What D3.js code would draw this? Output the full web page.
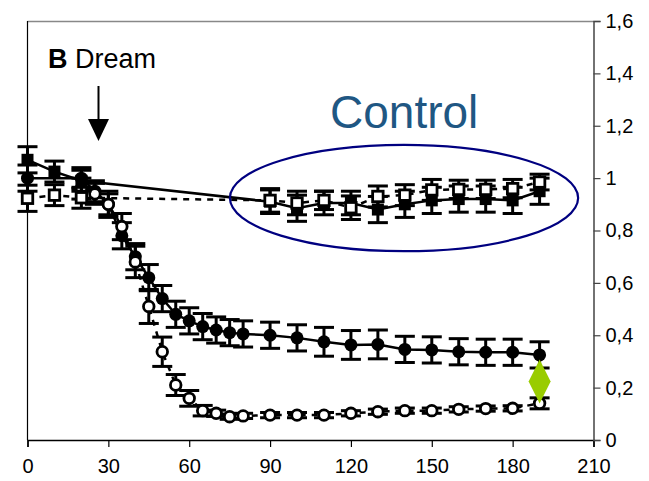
<!DOCTYPE html>
<html><head><meta charset="utf-8">
<script src="https://cdn.jsdelivr.net/npm/d3@7"></script>
<style>body{margin:0;background:#fff}svg{display:block;font-family:"Liberation Sans",Arial,sans-serif}</style>
</head><body><svg id="c" width="649" height="481"></svg>
<script>
// ---- data ----
const dreamFilledX   = [0,20,25,30,35,40,45,50,55,60,65,70,75,80,90,100,110,120,130,140,150,160,170,180,190];
const dreamFilled    = [1.0,1.0,0.95,0.9,0.78,0.70,0.62,0.54,0.48,0.455,0.433,0.42,0.41,0.405,0.40,0.39,0.375,0.363,0.365,0.346,0.344,0.337,0.335,0.335,0.325];
const dreamFilledErr = [0.05,0.04,0.04,0.05,0.05,0.05,0.05,0.05,0.05,0.05,0.05,0.05,0.05,0.05,0.05,0.05,0.055,0.055,0.055,0.05,0.05,0.05,0.05,0.05,0.05];
const dreamOpenX     = [20,25,30,35,40,45,50,55,60,65,70,75,80,90,100,110,120,130,140,150,160,170,180,190];
const dreamOpen      = [0.96,0.94,0.90,0.815,0.68,0.51,0.337,0.21,0.159,0.112,0.102,0.089,0.092,0.095,0.095,0.095,0.102,0.108,0.112,0.112,0.117,0.12,0.121,0.14];
const dreamOpenErr   = [0.04,0.04,0.04,0.05,0.06,0.065,0.056,0.04,0.03,0.02,0.012,0.01,0.01,0.01,0.01,0.01,0.01,0.01,0.01,0.01,0.01,0.01,0.01,0.021];
const ctrlX          = [0,10,20,90,100,110,120,130,140,150,160,170,180,190];
const ctrlFilled     = [1.07,1.025,0.99,0.91,0.885,0.905,0.905,0.88,0.90,0.915,0.92,0.92,0.915,0.95];
const ctrlFilledErr  = [0.05,0.04,0.04,0.045,0.05,0.045,0.045,0.05,0.05,0.05,0.05,0.05,0.05,0.05];
const ctrlOpen       = [0.923,0.935,0.925,0.915,0.905,0.915,0.887,0.93,0.935,0.955,0.957,0.957,0.96,0.985];
const ctrlOpenErr    = [0.05,0.04,0.04,0.045,0.045,0.035,0.045,0.04,0.04,0.04,0.035,0.035,0.035,0.03];
const xTicks = [0,30,60,90,120,150,180,210];
const yTicks = [0,0.2,0.4,0.6,0.8,1.0,1.2,1.4,1.6];
const yTickLabels = ["0","0,2","0,4","0,6","0,8","1","1,2","1,4","1,6"];
const sigMark = {x:190, y:0.223};
const ellipseAnno = {cx:139.7, cy:0.924, rx:64.6, ry:0.203};

// ---- chart ----
const svg = d3.select("#c");
const L=27.5, R=593.5, T=21, B=440;
const x = d3.scaleLinear().domain([0,210]).range([L,R]);
const y = d3.scaleLinear().domain([0,1.6]).range([B,T]);

// frame
svg.append("line").attr("x1",L).attr("x2",R).attr("y1",T+0.5).attr("y2",T+0.5).attr("stroke","#888").attr("stroke-width",1.5);
svg.append("line").attr("x1",L).attr("x2",L).attr("y1",T).attr("y2",B).attr("stroke","#000").attr("stroke-width",1.2);

// bottom axis
const xa = svg.append("g").attr("transform",`translate(0,${B})`)
  .call(d3.axisBottom(x).tickValues(xTicks).tickSize(7).tickPadding(12).tickFormat(d3.format("d")));
xa.select(".domain").attr("stroke","#000").attr("stroke-width",1.5);
xa.selectAll(".tick line").attr("stroke","#000").attr("stroke-width",1.2);
xa.selectAll("text").attr("font-size",20).attr("fill","#000").attr("font-family","'Liberation Sans',Arial,sans-serif");

// right axis
const ya = svg.append("g").attr("transform",`translate(${R},0)`)
  .call(d3.axisRight(y).tickValues(yTicks).tickSize(7).tickPadding(5).tickFormat((d,i)=>yTickLabels[i]));
ya.select(".domain").attr("stroke","#444").attr("stroke-width",1.5);
ya.selectAll(".tick line").attr("stroke","#444").attr("stroke-width",1.2);
ya.selectAll("text").attr("font-size",20).attr("fill","#000").attr("font-family","'Liberation Sans',Arial,sans-serif");

function series(xs, ys, es, opts){
  const g = svg.append("g");
  const pts = xs.map((v,i)=>({x:v,y:ys[i],e:es[i]}));
  const line = d3.line().x(d=>x(d.x)).y(d=>y(d.y));
  g.append("path").datum(pts).attr("d",line).attr("fill","none").attr("stroke","#000")
    .attr("stroke-width",opts.lw).attr("stroke-dasharray",opts.dash||null);
  const eb = g.selectAll(".eb").data(pts).enter().append("g");
  eb.append("line").attr("x1",d=>x(d.x)).attr("x2",d=>x(d.x)).attr("y1",d=>y(d.y-d.e)).attr("y2",d=>y(d.y+d.e))
    .attr("stroke","#000").attr("stroke-width",3);
  [-1,1].forEach(s=>{
    eb.append("line").attr("x1",d=>x(d.x)-10).attr("x2",d=>x(d.x)+10)
      .attr("y1",d=>y(d.y+s*d.e)).attr("y2",d=>y(d.y+s*d.e)).attr("stroke","#000").attr("stroke-width",3);
  });
  if(opts.shape==="circle"){
    g.selectAll(".m").data(pts).enter().append("circle").attr("cx",d=>x(d.x)).attr("cy",d=>y(d.y))
      .attr("r",opts.filled?6.5:5.3).attr("fill",opts.filled?"#000":"#fff").attr("stroke","#000").attr("stroke-width",opts.filled?0:2.8);
  } else {
    const s=opts.filled?12:10.5;
    g.selectAll(".m").data(pts).enter().append("rect").attr("x",d=>x(d.x)-s/2).attr("y",d=>y(d.y)-s/2)
      .attr("width",s).attr("height",s).attr("fill",opts.filled?"#000":"#fff").attr("stroke","#000").attr("stroke-width",opts.filled?0:2.8);
  }
}
series(dreamFilledX, dreamFilled, dreamFilledErr, {shape:"circle",filled:true,lw:2.5});
series(dreamOpenX, dreamOpen, dreamOpenErr, {shape:"circle",filled:false,lw:2.5,dash:"6,6"});
series(ctrlX, ctrlFilled, ctrlFilledErr, {shape:"square",filled:true,lw:2.5});
series(ctrlX, ctrlOpen, ctrlOpenErr, {shape:"square",filled:false,lw:2.5,dash:"6,6"});

// significance diamond
const dx=x(sigMark.x), dy=y(sigMark.y);
svg.append("path").attr("d",`M${dx},${dy-22}L${dx+11},${dy}L${dx},${dy+22}L${dx-11},${dy}Z`).attr("fill","#99cc00");

// ellipse
svg.append("ellipse").attr("cx",x(ellipseAnno.cx)).attr("cy",y(ellipseAnno.cy))
  .attr("rx",x(ellipseAnno.rx)-x(0)).attr("ry",y(0)-y(ellipseAnno.ry))
  .attr("fill","none").attr("stroke","#000080").attr("stroke-width",2.2);

// labels
svg.append("text").attr("x",330).attr("y",128).attr("font-size",46).attr("fill","#1f5783").text("Control");
const t = svg.append("text").attr("x",48).attr("y",68).attr("font-size",27).attr("fill","#000");
t.append("tspan").attr("font-weight","bold").text("B");
t.append("tspan").text(" Dream");

// arrow
svg.append("line").attr("x1",98.5).attr("x2",98.5).attr("y1",86).attr("y2",121).attr("stroke","#000").attr("stroke-width",2);
svg.append("path").attr("d","M88,119L109,119L98.5,141Z").attr("fill","#000");
</script></body></html>
